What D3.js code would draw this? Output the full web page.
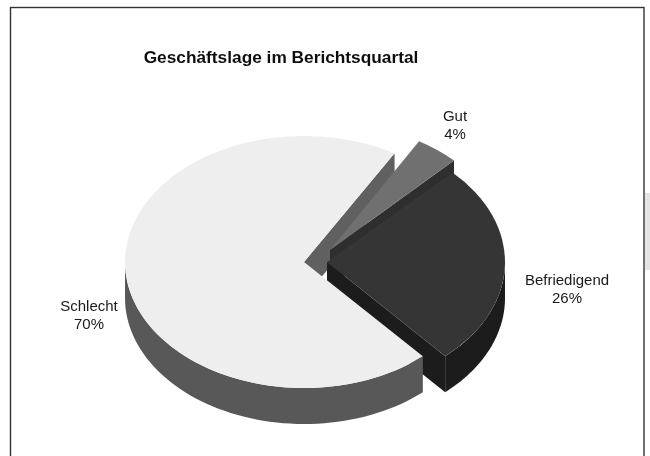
<!DOCTYPE html>
<html><head><meta charset="utf-8">
<script src="https://cdn.jsdelivr.net/npm/d3@7"></script>
<style>html,body{margin:0;padding:0;background:#fff}svg{display:block}text{font-family:"Liberation Sans",Arial,sans-serif;fill:#1a1a1a}</style>
</head><body><script>
const categories = ["Schlecht", "Gut", "Befriedigend"];
const values = [70, 4, 26];
const percentLabels = ["70%", "4%", "26%"];
const title = "Geschäftslage im Berichtsquartal";

const W = 650, H = 456;
const radiiX = [179, 176, 178], ry = 126, depth = 36;
const cx = 304, cy = 262;
const offsets = [[0,0],[26,-12],[23,0]];
const topCol = ["#eeeeee","#707070","#363636"];
const cutCol = ["#606060","#2e2e2e","#1b1b1b"];
const outerCol = ["#595959","#595959","#1b1b1b"];
const labelPos = [[89,311,329],[455,121,139],[567,285,303]];

const svg = d3.select("body").append("svg").attr("width",W).attr("height",H);
const defs = svg.append("defs");
defs.append("filter").attr("id","soft").append("feGaussianBlur").attr("stdDeviation",0.55);
const root = svg.append("g").attr("filter","url(#soft)");

root.append("rect").attr("x",645).attr("y",193).attr("width",5).attr("height",77).attr("fill","#e4e4e4");
root.append("rect").attr("x",10.5).attr("y",7.5).attr("width",633.5).attr("height",H+20)
    .attr("fill","#fff").attr("stroke","#333").attr("stroke-width",1.4);

const startDeg = 138.4;
const pie = d3.pie().sort(null).value(d=>d).startAngle(startDeg*Math.PI/180).endAngle((startDeg+360)*Math.PI/180);
const arcs = pie(values);
const pt = (i,a,dy=0)=>[cx+offsets[i][0]+radiiX[i]*Math.sin(a), cy+offsets[i][1]+dy-ry*Math.cos(a)];
const ctr = (i,dy=0)=>[cx+offsets[i][0], cy+offsets[i][1]+dy];
const line = d3.line();

function face(i){
  const arcGen = d3.arc().innerRadius(0).outerRadius(radiiX[i]);
  root.append("path").attr("d",arcGen(arcs[i]))
    .attr("transform",`translate(${ctr(i)}) scale(1,${ry/radiiX[i]})`).attr("fill",topCol[i]);
}
function cut(i,a){
  root.append("path").attr("d",line([ctr(i),pt(i,a),pt(i,a,depth),ctr(i,depth)])+"Z").attr("fill",cutCol[i]);
}
function outer(i,a0,a1){
  const as = d3.range(0,61).map(k=>a0+(a1-a0)*k/60);
  const pts = as.map(a=>pt(i,a)).concat(as.slice().reverse().map(a=>pt(i,a,depth)));
  root.append("path").attr("d",line(pts)+"Z").attr("fill",outerCol[i]);
}
const [S,G,B] = [0,1,2];
// back to front
cut(S,arcs[S].endAngle);
cut(G,arcs[G].endAngle);
face(G);
cut(B,arcs[B].endAngle);
outer(B,Math.PI/2,arcs[B].endAngle-2*Math.PI);
face(B);
outer(S,arcs[S].startAngle,3*Math.PI/2);
face(S);

root.append("text").attr("x",281).attr("y",63).attr("text-anchor","middle")
    .attr("font-weight","bold").attr("font-size",17.3).style("fill","#111").text(title);
categories.forEach((c,i)=>{
  const [x,y1,y2]=labelPos[i];
  root.append("text").attr("x",x).attr("y",y1).attr("text-anchor","middle").attr("font-size",15).text(c);
  root.append("text").attr("x",x).attr("y",y2).attr("text-anchor","middle").attr("font-size",15).text(percentLabels[i]);
});
</script></body></html>
